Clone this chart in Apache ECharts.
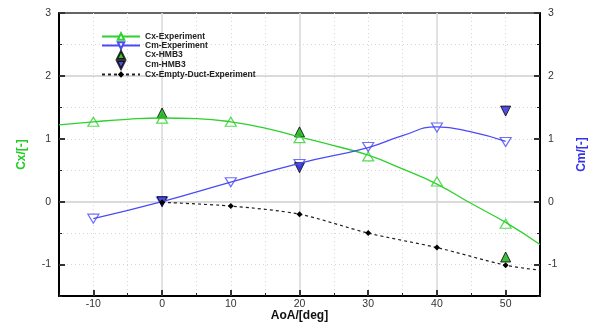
<!DOCTYPE html>
<html>
<head>
<meta charset="utf-8">
<script src="https://cdn.jsdelivr.net/npm/echarts@6/dist/echarts.min.js"></script>
<style>
  html, body { margin: 0; padding: 0; background: #fff; }
  #chart { width: 591px; height: 325px; }
</style>
</head>
<body>
<div id="chart"></div>
<script>
// Measured angles of attack and coefficients
const aoa = [-10, 0, 10, 20, 30, 40, 50];
const cxExp = [1.27, 1.32, 1.27, 1.01, 0.72, 0.32, -0.35];
const cmExp = [-0.27, 0.0, 0.31, 0.60, 0.87, 1.18, 0.95];

// HMB3 computations
const aoaHmb = [0, 20, 50];
const cxHmb = [1.41, 1.11, -0.88];
const cmHmb = [0.0, 0.54, 1.44];

// Empty duct measurement (last value is the trend end point)
const aoaDuct = [0, 10, 20, 30, 40, 50, 55];
const cxDuct = [-0.01, -0.07, -0.20, -0.50, -0.73, -1.01, -1.09];

// Fitted trend curves through the experiment
const aoaCxFit = [-15, -10, -5, 0, 5, 10, 15, 20, 25, 30, 35, 40, 45, 50, 55];
const cxFit = [1.22, 1.27, 1.31, 1.33, 1.32, 1.27, 1.17, 1.03, 0.89, 0.74, 0.52, 0.28, -0.03, -0.33, -0.68];
const aoaCmFit = [-10, 0, 10, 20, 30, 35, 40, 45, 50];
const cmFit = [-0.27, 0.0, 0.31, 0.61, 0.86, 1.05, 1.19, 1.11, 0.96];

// Axis tick labels
const xMajorTicks = [-10, 0, 10, 20, 30, 40, 50];
const yMajorTicks = [-1, 0, 1, 2, 3];

const GREEN = '#2ed12e';
const BLUE = '#4b4bf5';
const FONT = 'Liberation Sans, Arial, sans-serif';

// Legend glyphs for the single-symbol entries
const TRI_UP = 'path://M0,0L1,2L-1,2Z';
const TRI_DOWN = 'path://M-1,0L1,0L0,2Z';

const zip = (xs, ys) => xs.map((x, i) => [x, ys[i]]);

const chart = echarts.init(document.getElementById('chart'), null, { renderer: 'canvas' });

const minorSplit = { show: true, showMaxLine: false, lineStyle: { color: '#d6d6d6', width: 1, type: [1, 3] } };
const majorSplitColors = ['rgba(0,0,0,0)', '#dadada'];

function baseY(pos, name, nameColor) {
  return {
    type: 'value', position: pos, min: -1.5, max: 3, interval: 0.5,
    axisLine: { show: true, onZero: false, lineStyle: { color: '#000', width: 2 } },
    axisTick: { show: true, inside: true, length: 3, lineStyle: { color: '#222', width: 1 } },
    axisLabel: {
      color: '#333', fontSize: 10.5, fontFamily: FONT, margin: 8,
      formatter: v => (yMajorTicks.indexOf(v) >= 0 ? String(v) : '')
    },
    name: name, nameLocation: 'middle', nameRotate: 90, nameGap: pos === 'left' ? 31 : 36,
    nameTextStyle: { color: nameColor, fontWeight: 'bold', fontSize: 12, fontFamily: FONT },
    splitLine: pos === 'left' ? minorSplit : { show: false }
  };
}

function helperY(pos, withGrid) {
  return {
    type: 'value', position: pos, min: -1.5, max: 3, interval: 0.5,
    axisLine: { show: false, onZero: false },
    axisLabel: { show: false },
    axisTick: { show: true, inside: true, length: 6, customValues: yMajorTicks, lineStyle: { color: '#333', width: 2 } },
    splitLine: withGrid
      ? { show: true, showMaxLine: false, lineStyle: { color: majorSplitColors, width: 2 } }
      : { show: false }
  };
}

const option = {
  animation: false,
  backgroundColor: '#fff',
  grid: {
    left: 59, right: 51, top: 13, bottom: 29,
    outerBoundsMode: 'none', containLabel: false,
    show: true, borderColor: '#333', borderWidth: 1.5, backgroundColor: 'transparent'
  },
  legend: {
    orient: 'vertical', left: 96, top: 27,
    itemWidth: 38, itemHeight: 8, itemGap: 0, itemSymbolKeepAspect: true,
    textStyle: { fontFamily: FONT, fontSize: 8.5, fontWeight: 'bold', color: '#222' },
    data: [
      { name: 'Cx-Experiment' },
      { name: 'Cm-Experiment' },
      { name: 'Cx-HMB3', icon: TRI_UP, symbolRotate: 0 },
      { name: 'Cm-HMB3', icon: TRI_DOWN, symbolRotate: 0 },
      { name: 'Cx-Empty-Duct-Experiment' }
    ]
  },
  xAxis: [
    {
      type: 'value', position: 'bottom', min: -15, max: 55, interval: 5,
      axisLine: { show: true, onZero: false, lineStyle: { color: '#000', width: 2 } },
      axisTick: { show: true, inside: true, length: 3, lineStyle: { color: '#222', width: 1 } },
      axisLabel: {
        color: '#333', fontSize: 10.5, fontFamily: FONT, margin: 3,
        formatter: v => (xMajorTicks.indexOf(v) >= 0 ? String(v) : '')
      },
      name: 'AoA/[deg]', nameLocation: 'middle', nameGap: 14, nameMoveOverlap: false,
      nameTextStyle: { color: '#111', fontWeight: 'bold', fontSize: 12, fontFamily: FONT },
      splitLine: minorSplit
    },
    {
      type: 'value', position: 'bottom', min: -15, max: 55, interval: 5,
      axisLine: { show: false, onZero: false },
      axisLabel: { show: false },
      axisTick: { show: true, inside: true, length: 6, customValues: xMajorTicks, lineStyle: { color: '#333', width: 2 } },
      splitLine: { show: true, lineStyle: { color: majorSplitColors, width: 1.5 } }
    }
  ],
  yAxis: [
    baseY('left', 'Cx/[-]', '#22cc22'),
    baseY('right', 'Cm/[-]', '#3333ee'),
    helperY('left', true),
    helperY('right', false)
  ],
  series: [
    {
      name: 'Cx-Experiment', type: 'line', xAxisIndex: 0, yAxisIndex: 0,
      data: zip(aoaCxFit, cxFit), smooth: true, showSymbol: false,
      symbol: 'triangle', symbolSize: 10,
      lineStyle: { color: GREEN, width: 1.3 },
      itemStyle: { color: '#fff', borderColor: GREEN, borderWidth: 1.2 }
    },
    {
      name: 'Cm-Experiment', type: 'line', xAxisIndex: 0, yAxisIndex: 1,
      data: zip(aoaCmFit, cmFit), smooth: true, showSymbol: false,
      symbol: 'triangle', symbolSize: 10, symbolRotate: 180,
      lineStyle: { color: BLUE, width: 1.3 },
      itemStyle: { color: '#fff', borderColor: BLUE, borderWidth: 1.2 }
    },
    {
      name: 'Cx-Experiment', type: 'scatter', xAxisIndex: 0, yAxisIndex: 0,
      data: zip(aoa, cxExp), symbol: 'triangle', symbolSize: [11, 9],
      itemStyle: { color: '#fff', borderColor: GREEN, borderWidth: 1.2 }
    },
    {
      name: 'Cm-Experiment', type: 'scatter', xAxisIndex: 0, yAxisIndex: 1,
      data: zip(aoa, cmExp), symbol: 'triangle', symbolSize: [11, 9], symbolRotate: 180,
      itemStyle: { color: '#fff', borderColor: BLUE, borderWidth: 1.2 }
    },
    {
      name: 'Cx-HMB3', type: 'scatter', xAxisIndex: 0, yAxisIndex: 0,
      data: zip(aoaHmb, cxHmb), symbol: 'triangle', symbolSize: [10, 10],
      itemStyle: { color: '#0fae0f', borderColor: '#000', borderWidth: 1 }
    },
    {
      name: 'Cm-HMB3', type: 'scatter', xAxisIndex: 0, yAxisIndex: 1,
      data: zip(aoaHmb, cmHmb), symbol: 'triangle', symbolSize: [10, 10], symbolRotate: 180,
      itemStyle: { color: '#2323d8', borderColor: '#000', borderWidth: 1 }
    },
    {
      name: 'Cx-Empty-Duct-Experiment', type: 'line', xAxisIndex: 0, yAxisIndex: 0,
      data: zip(aoaDuct, cxDuct).map((p, i) => (i < aoaDuct.length - 1 ? { value: p } : { value: p, symbol: 'none' })),
      smooth: 0.3, symbol: 'diamond', symbolSize: 6, showSymbol: true,
      lineStyle: { color: '#222', width: 1.2, type: [3, 3] },
      itemStyle: { color: '#000' }
    }
  ]
};

chart.setOption(option);
</script>
</body>
</html>
